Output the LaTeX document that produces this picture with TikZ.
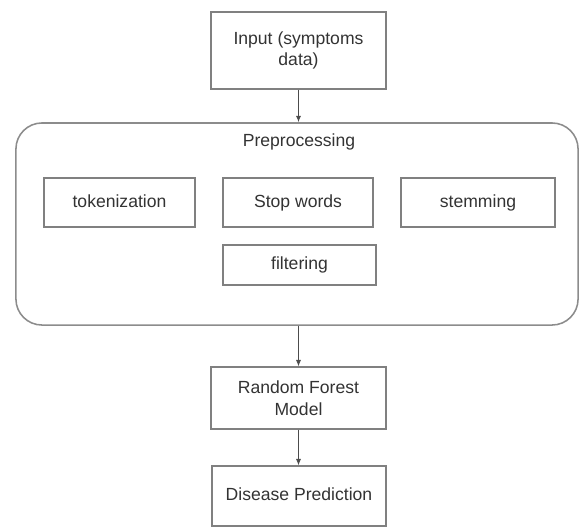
\documentclass[tikz,border=0pt]{standalone}
\usepackage{xcolor}
\usepackage{fontspec}
\setmainfont{Liberation Sans}
\usepackage{tikz}
\usetikzlibrary{shapes, arrows.meta, positioning}

\begin{document}
\begin{tikzpicture}
  [
    x=0.025cm, y=-0.025cm,
    Box/.style={rectangle, draw=black!50, line width=0.9pt, fill=white, align=center, text=black!80, font=\fontsize{12.5}{15.5}\selectfont, inner sep=2pt},
    Single/.style={Box, text height=1.6ex, text depth=0.35ex},
    Step/.style={Single, minimum height=1.225cm},
    Group/.style={rectangle, rounded corners=0.65cm, draw=black!45, line width=1.1pt, minimum width=14.05cm, minimum height=5.05cm},
    Arrow/.style={draw=black!70, line width=0.7pt, -{Latex[length=1.6mm, width=1.3mm]}}
  ]
  \useasboundingbox (0, 0) rectangle (580, 528);
  % Nodes
  \node[Group] (pre) at(297, 224) {};
  \node[text=black!80, font=\fontsize{12.5}{14}\selectfont] (prelabel) at(299, 142) {Preprocessing};

  \node[Box, minimum width=4.375cm, minimum height=1.925cm] (input) at(298.5, 50.5) {Input (symptoms\\data)};

  \node[Step, minimum width=3.775cm] (token) at(119.5, 202.5) {tokenization};
  \node[Step, minimum width=3.75cm] (stop) at(298, 202.5) {Stop words};
  \node[Step, minimum width=3.85cm] (stem) at(478, 202.5) {stemming};
  \node[Single, minimum width=3.825cm, minimum height=1.0cm] (filter) at(299.5, 265) {filtering};

  \node[Box, minimum width=4.375cm, minimum height=1.55cm] (forest) at(298.5, 398) {Random Forest\\Model};
  \node[Single, minimum width=4.35cm, minimum height=1.5cm] (disease) at(299, 496) {Disease Prediction};

  % Arrows
  \draw[Arrow] (input.south) -- (input.south |- pre.north);
  \draw[Arrow] (forest.north |- pre.south) -- (forest.north);
  \draw[Arrow] (forest.south) -- (disease.north -| forest.south);

\end{tikzpicture}
\end{document}
